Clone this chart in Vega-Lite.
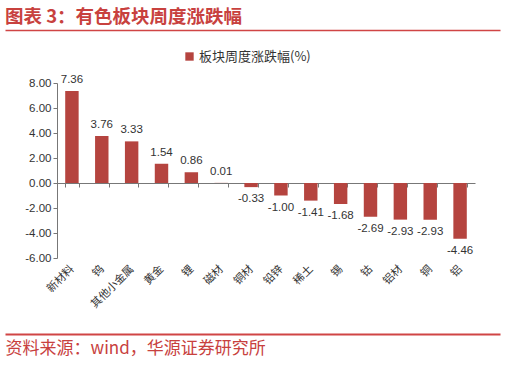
{
  "$schema": "https://vega.github.io/schema/vega-lite/v6.json",
  "width": 418,
  "height": 175,
  "autosize": "none",
  "padding": {"left": 57, "top": 83, "right": 31, "bottom": 109},
  "background": "white",
  "title": {"text": "图表 3：有色板块周度涨跌幅", "anchor": "start", "frame": "group", "offset": 4, "fontSize": 18.5, "font": "Noto Sans CJK SC", "fontWeight": "bold", "color": "#C8413E", "dx": -52},
  "config": {"view": {"stroke": null}, "font": "Noto Sans CJK SC",
    "locale": {"number": {"decimal": ".", "thousands": ",", "grouping": [3], "currency": ["", ""], "minus": "-"}}},
  "data": {"values": [
    {"cat": "新材料", "v": 7.36},
    {"cat": "钨", "v": 3.76},
    {"cat": "其他小金属", "v": 3.33},
    {"cat": "黄金", "v": 1.54},
    {"cat": "锂", "v": 0.86},
    {"cat": "磁材", "v": 0.01},
    {"cat": "铜材", "v": -0.33},
    {"cat": "铅锌", "v": -1.00},
    {"cat": "稀土", "v": -1.41},
    {"cat": "锡", "v": -1.68},
    {"cat": "钴", "v": -2.69},
    {"cat": "铝材", "v": -2.93},
    {"cat": "铜", "v": -2.93},
    {"cat": "铝", "v": -4.46}
  ]},
  "layer": [
    {
      "encoding": {
        "x": {"field": "cat", "type": "nominal", "sort": null,
          "scale": {"paddingInner": 0.55, "paddingOuter": 0.275},
          "axis": {"orient": "bottom", "offset": -75, "domain": true, "domainColor": "#777", "ticks": true, "tickBand": "extent", "tickSize": 4, "tickColor": "#777", "labelAngle": -45, "labelAlign": "right", "labelBaseline": "middle", "labelPadding": 80, "labelFontSize": 11, "labelColor": "#333", "title": null}},
        "y": {"field": "v", "type": "quantitative",
          "scale": {"domain": [-6, 8], "nice": false, "zero": false},
          "axis": {"values": [-6, -4, -2, 0, 2, 4, 6, 8], "format": ".2f", "grid": false, "labelOverlap": false, "domainColor": "#777", "tickColor": "#777", "tickSize": 4, "labelFontSize": 11.5, "labelColor": "#333", "labelFont": "Liberation Sans", "labelPadding": 2, "title": null}}
      },
      "layer": [
        {
          "mark": {"type": "bar", "color": "#B5443F"},
          "encoding": {
            "color": {"datum": "板块周度涨跌幅(%)", "type": "nominal",
              "scale": {"range": ["#B5443F"]},
              "legend": {"orient": "none", "legendX": 126, "legendY": -33, "title": null, "symbolType": "square", "symbolSize": 70, "symbolStrokeWidth": 0, "labelFontSize": 13, "labelColor": "#333", "labelFont": "Noto Sans CJK SC", "padding": 0, "labelOffset": 3}}
          }
        },
        {
          "transform": [{"filter": "datum.v >= 0"}],
          "mark": {"type": "text", "baseline": "bottom", "dy": -6, "fontSize": 11.5, "color": "#333", "font": "Liberation Sans"},
          "encoding": {"text": {"field": "v", "type": "quantitative", "format": ".2f"}}
        },
        {
          "transform": [{"filter": "datum.v < 0"}],
          "mark": {"type": "text", "baseline": "top", "dy": 6, "fontSize": 11.5, "color": "#333", "font": "Liberation Sans"},
          "encoding": {"text": {"field": "v", "type": "quantitative", "format": ".2f"}}
        }
      ]
    },
    {
      "mark": {"type": "point", "opacity": 0},
      "encoding": {
        "x": {"field": "cat", "type": "nominal", "sort": null,
          "scale": {"range": [-52, 443]},
          "axis": {"orient": "top", "offset": 53, "domainColor": "#D04545", "domainWidth": 1.5, "labels": false, "ticks": false, "title": null}}
      }
    },
    {
      "mark": {"type": "point", "opacity": 0},
      "encoding": {
        "x": {"field": "cat", "type": "nominal", "sort": null,
          "scale": {"range": [-52, 443]},
          "axis": {"orient": "bottom", "offset": 76, "domainColor": "#D04545", "domainWidth": 2, "labels": false, "ticks": false, "title": "资料来源：wind，华源证券研究所", "titleAnchor": "start", "titleAlign": "left", "titleColor": "#C8413E", "titleFontSize": 17, "titleFontWeight": "normal", "titleFont": "Noto Sans CJK SC", "titlePadding": 6}}
      }
    }
  ],
  "resolve": {"scale": {"x": "independent"}, "axis": {"x": "independent"}}
}
